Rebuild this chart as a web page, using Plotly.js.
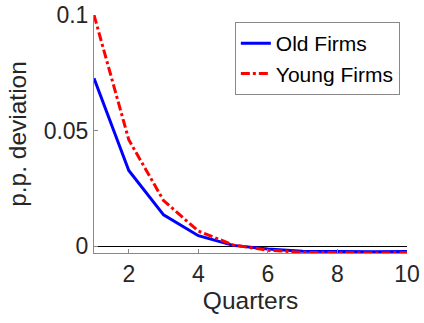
<!DOCTYPE html>
<html><head><meta charset="utf-8">
<script src="https://cdn.plot.ly/plotly-3.0.1.min.js"></script>
<style>html,body{margin:0;padding:0;background:#fff}#chart{width:424px;height:323px}</style>
</head><body><div id="chart"></div>
<script>
const quarters = [1,2,3,4,5,6,7,8,9,10];
const oldFirms = [0.0726,0.0327,0.0135,0.0045,0.0003,-0.0013,-0.0022,-0.0025,-0.0025,-0.0024];
const youngFirms = [0.1,0.046,0.0197,0.0065,0.0005,-0.0018,-0.0027,-0.003,-0.003,-0.0029];
const xTicks = [2,4,6,8,10];
const yTicks = [0,0.05,0.1];
const yTickText = ['0','0.05','0.1'];

const fam = 'Liberation Sans, Arial, sans-serif';
Plotly.newPlot('chart', [
  {x:quarters, y:oldFirms, name:'Old Firms', mode:'lines', line:{color:'#0000ff', width:3}},
  {x:quarters, y:youngFirms, name:'Young Firms', mode:'lines', line:{color:'#ff0000', width:3, dash:'dashdot'}}
], {
  width:424, height:323,
  margin:{l:94, r:17, t:15, b:70},
  paper_bgcolor:'#fff', plot_bgcolor:'#fff',
  font:{family:fam, size:23, color:'#262626'},
  showlegend:true,
  legend:{x:0.45, y:0.97, xanchor:'left', yanchor:'top', bgcolor:'#fff', bordercolor:'#888', borderwidth:1,
          font:{family:fam, size:21, color:'#000'}, tracegroupgap:0},
  xaxis:{range:[1,10], tickvals:xTicks, ticks:'inside', ticklen:4, tickcolor:'#888',
         showline:true, linecolor:'#888', linewidth:1, showgrid:false, zeroline:false, mirror:false,
         tickfont:{size:23}, title:{text:'Quarters', font:{size:24.5}, standoff:6}},
  yaxis:{range:[-0.003,0.1], tickvals:yTicks, ticktext:yTickText, ticks:'inside', ticklen:4, tickcolor:'#888',
         showline:true, linecolor:'#888', linewidth:1, showgrid:false,
         zeroline:true, zerolinecolor:'#000', zerolinewidth:1,
         tickfont:{size:23}, title:{text:'p.p. deviation', font:{size:24.5}, standoff:10}}
}, {displayModeBar:false, staticPlot:true});
</script></body></html>
